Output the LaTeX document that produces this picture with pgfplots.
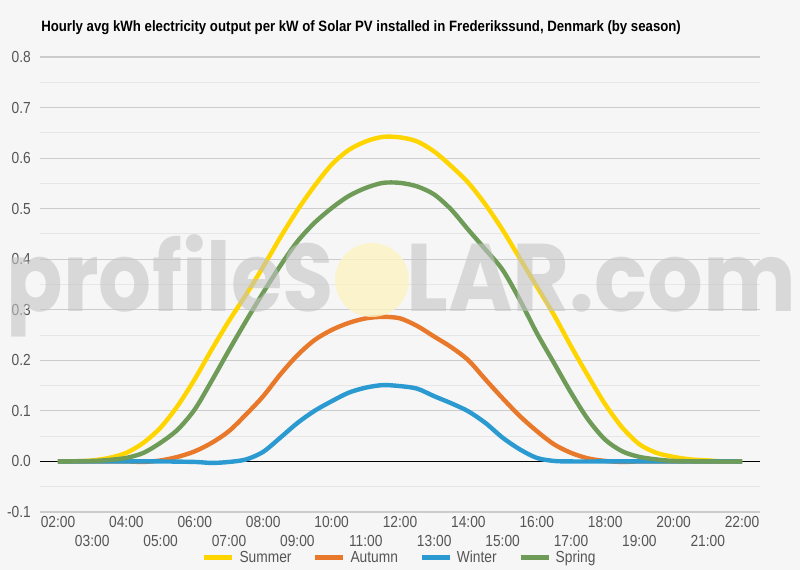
\documentclass[border=0pt]{standalone}
\usepackage{pgfplots}
\pgfplotsset{compat=1.18}
\usepackage{fontspec}
\setmainfont{Liberation Sans}[FakeStretch=0.86]
\newfontfamily\titlefont{Liberation Sans}[FakeStretch=0.88]
\newfontfamily\wmfont{Poppins}
\definecolor{bg}{HTML}{F6F6F6}
\definecolor{gridmaj}{HTML}{CCCCCC}
\definecolor{gridmin}{HTML}{E6E6E6}
\definecolor{lbl}{HTML}{555555}
\definecolor{summer}{HTML}{FFD500}
\definecolor{autumn}{HTML}{E8782A}
\definecolor{winter}{HTML}{2B9AD0}
\definecolor{spring}{HTML}{6E9B58}
\definecolor{wm}{HTML}{C4C4C4}
\definecolor{sun}{HTML}{FBF3C2}

\begin{document}
\begin{tikzpicture}
% canvas 800x570 px, 1px = 0.75pt
\useasboundingbox (0,0) rectangle (600pt,427.5pt);
\fill[bg] (0,0) rectangle (600pt,427.5pt);

\begin{axis}[
  at={(30pt,43.5pt)}, anchor=south west,
  scale only axis, width=540pt, height=341.25pt,
  xmin=1.474, xmax=22.526, ymin=-0.1, ymax=0.8,
  ytick={-0.1,0,0.1,0.2,0.3,0.4,0.5,0.6,0.7,0.8},
  minor y tick num=1,
  ymajorgrids, yminorgrids,
  major grid style={color=gridmaj, line width=0.9pt},
  minor grid style={color=gridmin, line width=0.75pt},
  axis line style={draw=none},
  major tick length=0pt, minor tick length=0pt,
  xtick={2,4,...,22},
  xticklabels={02:00,04:00,06:00,08:00,10:00,12:00,14:00,16:00,18:00,20:00,22:00},
  extra x ticks={3,5,...,21},
  extra x tick labels={03:00,05:00,07:00,09:00,11:00,13:00,15:00,17:00,19:00,21:00},
  extra x tick style={xticklabel style={yshift=-14.25pt}},
  xticklabel style={inner sep=0pt, yshift=-3pt, font=\fontsize{12}{14}\selectfont, text=lbl},
  yticklabel style={inner sep=0pt, xshift=-6.75pt, font=\fontsize{12}{14}\selectfont, text=lbl},
  /pgf/number format/assume math mode=true,
  yticklabel={\pgfmathprintnumber[fixed,fixed zerofill,precision=1]{\tick}},
  legend style={at={(0.5,-0.1)}, anchor=center, draw=none, fill=none,
    legend columns=4, font=\fontsize{12}{14}\selectfont, text=lbl,
    /tikz/every odd column/.append style={column sep=1.5pt},
    /tikz/every even column/.append style={column sep=14pt},
    inner sep=0pt},
  legend image code/.code={\draw[line width=3.75pt] (0pt,0pt) -- (21pt,0pt);},
  every axis plot/.append style={line width=3.3pt, smooth, no marks},
]
\addplot[black, line width=0.9pt, sharp plot, forget plot] coordinates {(1.474,0) (22.526,0)};

\addplot[summer] coordinates {
(2,0) (2.5,0) (3,0.002) (3.5,0.007) (4,0.017) (4.5,0.037) (5,0.067) (5.5,0.11) (6,0.163) (6.5,0.222)
(7,0.278) (7.5,0.33) (8,0.385) (8.5,0.443) (9,0.497) (9.5,0.545) (10,0.587) (10.5,0.616) (11,0.633) (11.5,0.642)
(12,0.641) (12.5,0.633) (13,0.613) (13.5,0.584) (14,0.551) (14.5,0.508) (15,0.458) (15.5,0.402) (16,0.346)
(16.5,0.29) (17,0.228) (17.5,0.169) (18,0.113) (18.5,0.067) (19,0.034) (19.5,0.017) (20,0.009) (20.5,0.004)
(21,0.002) (21.5,0) (22,0)};
\addlegendentry{Summer}

\addplot[autumn] coordinates {
(2,0) (3,0) (4,0) (4.5,-0.001) (5,0.002) (5.5,0.009) (6,0.02) (6.5,0.037) (7,0.06) (7.5,0.093) (8,0.129)
(8.5,0.172) (9,0.21) (9.5,0.24) (10,0.26) (10.5,0.274) (11,0.283) (11.5,0.286) (12,0.283) (12.5,0.268)
(13,0.247) (13.5,0.226) (14,0.2) (14.5,0.162) (15,0.125) (15.5,0.09) (16,0.06) (16.5,0.034) (17,0.017)
(17.5,0.006) (18,0.001) (18.5,-0.001) (19,0) (20,0) (21,0) (22,0)};
\addlegendentry{Autumn}

\addplot[winter] coordinates {
(2,0) (3,0) (4,0) (5,0) (6,-0.001) (6.5,-0.003) (7,-0.001) (7.5,0.004) (8,0.019) (8.5,0.047) (9,0.076)
(9.5,0.1) (10,0.119) (10.5,0.136) (11,0.146) (11.5,0.151) (12,0.149) (12.5,0.144) (13,0.129) (13.5,0.115)
(14,0.099) (14.5,0.076) (15,0.047) (15.5,0.024) (16,0.007) (16.5,0.001) (17,0) (18,0) (19,0) (20,0) (21,0) (22,0)};
\addlegendentry{Winter}

\addplot[spring] coordinates {
(2,0) (3,0.001) (3.5,0.003) (4,0.007) (4.5,0.017) (5,0.037) (5.5,0.063) (6,0.103) (6.5,0.16) (7,0.22)
(7.5,0.278) (8,0.334) (8.5,0.387) (9,0.435) (9.5,0.472) (10,0.501) (10.5,0.525) (11,0.541) (11.5,0.551)
(12,0.551) (12.5,0.544) (13,0.528) (13.5,0.498) (14,0.458) (14.5,0.419) (15,0.379) (15.5,0.32) (16,0.254)
(16.5,0.195) (17,0.136) (17.5,0.083) (18,0.043) (18.5,0.02) (19,0.009) (19.5,0.004) (20,0.001) (21,0) (22,0)};
\addlegendentry{Spring}
\end{axis}

% title and watermark, in px from the top left
\begin{scope}[x=0.75pt, y=-0.75pt, shift={(0,427.5pt)}]
\node[anchor=west, inner sep=0pt, font=\titlefont\bfseries\fontsize{11.25}{13}\selectfont] at (41,28)
  {Hourly avg kWh electricity output per kW of Solar PV installed in Frederikssund, Denmark (by season)};
\fill[sun, opacity=0.8] (372,280) circle (37);
\node[anchor=base east, inner sep=0pt, text=wm, text opacity=0.6] at (334,312)
  {\resizebox{245.25pt}{\height}{\wmfont\bfseries\fontsize{72}{76}\selectfont profileS}};
\node[anchor=base west, inner sep=0pt, text=wm, text opacity=0.6] at (406,312)
  {\resizebox{292.5pt}{\height}{\wmfont\bfseries\fontsize{72}{76}\selectfont LAR.com}};
\end{scope}
\end{tikzpicture}
\end{document}
